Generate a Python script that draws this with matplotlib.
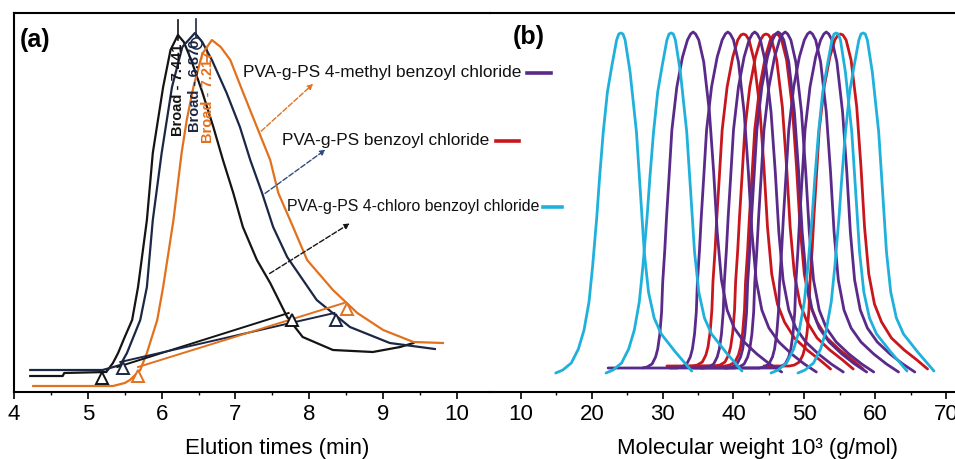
import matplotlib
matplotlib.use("Agg")
import matplotlib.pyplot as plt
import numpy as np

plt.rcParams['font.family'] = ['Liberation Sans', 'DejaVu Sans']

# ---- panel (a): GPC traces (elution time in min, height above baseline axis)
black_t = [4.22, 4.66, 4.68, 5.25, 5.34, 5.41, 5.50, 5.60, 5.68, 5.80, 5.88, 6.02, 6.12, 6.22,
           6.30, 6.40, 6.55, 6.70, 6.83, 6.97, 7.10, 7.29, 7.47, 7.70, 7.91, 8.32, 8.86, 9.23, 9.41]
black_h = [16, 16, 19, 20, 29, 39, 55, 72, 105, 172, 239, 305, 342, 357,
           350, 332, 300, 265, 232, 199, 165, 132, 109, 75, 55, 42, 40, 45, 49]

navy_t = [4.22, 5.20, 5.30, 5.44, 5.53, 5.71, 5.80, 5.88, 6.00, 6.14, 6.28, 6.45,
          6.55, 6.68, 6.88, 7.06, 7.20, 7.36, 7.51, 7.70, 8.10, 8.55, 9.09, 9.70]
navy_h = [22, 22, 24, 27, 39, 72, 105, 172, 239, 305, 345, 359,
          350, 332, 299, 265, 232, 199, 165, 135, 92, 65, 49, 43]

orange_t = [4.26, 5.34, 5.50, 5.57, 5.71, 5.80, 5.94, 6.02, 6.16, 6.27, 6.34, 6.43, 6.55, 6.68,
            6.80, 6.93, 7.10, 7.29, 7.47, 7.58, 7.78, 7.97, 8.32, 8.65, 9.00, 9.41, 9.81]
orange_h = [6, 6, 9, 12, 22, 39, 72, 105, 172, 239, 272, 305, 338, 352,
            345, 332, 300, 265, 232, 199, 165, 132, 102, 79, 62, 50, 49]

# integration baselines (start, end) and their triangle marks
black_base_t, black_base_h = [5.40, 7.72], [25, 79]
navy_base_t, navy_base_h = [5.44, 8.34], [30, 79]
orange_base_t, orange_base_h = [5.68, 8.47], [25, 89]
black_tri_t, black_tri_h = [5.19, 7.76], [14, 72]
navy_tri_t, navy_tri_h = [5.48, 8.36], [24, 72]
orange_tri_t, orange_tri_h = [5.68, 8.51], [16, 83]

peak_labels = ["Broad - 7.441", "Broad - 6.870", "Broad - 7.217"]

# ---- panel (b): molecular weight distributions (peak positions, 10^3 g/mol)
cyan_peaks = [24.1, 31.2, 54.5, 58.3]
purple_peaks = [34.3, 39.2, 43.0, 46.3, 47.3, 50.8, 53.1]
red_peaks = [41.4, 44.6, 46.0, 55.1]

# one distribution shape per series (offset from peak, height)
cyan_dx = [-9.2, -8.2, -7.0, -6.0, -5.2, -4.5, -4.0, -3.7, -3.4, -3.0, -2.5, -1.9, -1.3, -0.6, -0.3, 0.0,
           0.3, 0.6, 1.3, 2.2, 2.8, 3.3, 3.9, 4.7, 5.7, 7.7, 10.0]
cyan_h = [19, 22, 29, 43, 62, 90, 125, 150, 175, 215, 259, 300, 325, 352, 358, 359,
          358, 352, 320, 260, 195, 140, 100, 74, 58, 40, 21]

purple_dx = [-12.0, -7.2, -6.5, -5.8, -5.3, -5.0, -4.7, -4.45, -4.3, -4.0, -3.75, -3.4, -3.0, -2.3, -1.5,
             -0.8, -0.35, 0.0, 0.35, 0.8, 1.5, 2.3, 2.9, 3.4, 4.0, 4.8, 5.8, 7.2, 9.0, 10.8, 12.5]
purple_h = [24, 24, 25, 28, 35, 43, 58, 80, 109, 142, 175, 215, 262, 305, 335,
            352, 358, 360, 358, 352, 330, 280, 220, 160, 112, 82, 64, 50, 38, 28, 20]

red_dx = [-10.8, -7.2, -6.5, -5.8, -5.3, -5.0, -4.7, -4.45, -4.3, -4.0, -3.75, -3.4, -3.0, -2.3, -1.5,
          -0.8, -0.35, 0.0, 0.35, 0.8, 1.5, 2.3, 2.9, 3.4, 4.0, 4.8, 5.8, 7.2, 9.0, 10.8, 12.3]
red_h = [26, 26, 27, 30, 37, 45, 60, 82, 110, 142, 175, 215, 262, 305, 335,
         352, 357, 358, 357, 352, 332, 285, 225, 165, 118, 88, 70, 54, 42, 32, 23]

legend_names = ["PVA-g-PS 4-methyl benzoyl chloride", "PVA-g-PS benzoyl chloride",
                "PVA-g-PS 4-chloro benzoyl chloride"]

C_BLACK, C_NAVY, C_ORANGE = "#141414", "#1b2745", "#e2711d"
C_CYAN, C_PURPLE, C_RED = "#1fb1dc", "#5a2a8a", "#c8161d"

W, H = 955, 459
fig = plt.figure(figsize=(W / 100, H / 100), dpi=100)
bottom, height = (H - 392) / H, (392 - 13) / H
ax_a = fig.add_axes([14 / W, bottom, (490 - 14) / W, height])
ax_b = fig.add_axes([490 / W, bottom, (957 - 490) / W, height])
ax_b.patch.set_visible(False)

# ---------------- panel (a)
for t, h, c in [(black_t, black_h, C_BLACK), (navy_t, navy_h, C_NAVY), (orange_t, orange_h, C_ORANGE)]:
    ax_a.plot(t, h, color=c, lw=1.6, zorder=3)
for t, h, c in [(black_base_t, black_base_h, C_BLACK), (navy_base_t, navy_base_h, C_NAVY),
                (orange_base_t, orange_base_h, C_ORANGE)]:
    ax_a.plot(t, h, color=c, lw=1.4, zorder=3)
for t, h, c in [(black_tri_t, black_tri_h, C_BLACK), (navy_tri_t, navy_tri_h, C_NAVY),
                (orange_tri_t, orange_tri_h, C_ORANGE)]:
    ax_a.plot(t, h, ls="none", marker="^", ms=9, mfc="white", mec=c, mew=1.4, zorder=4)

# peak marks and labels
ax_a.plot([6.22, 6.22], [352, 372], color=C_BLACK, lw=1.2)
ax_a.plot([6.47, 6.47], [355, 373], color=C_NAVY, lw=1.2)
ax_a.plot([6.47], [349], marker="o", ms=8, mfc="none", mec=C_NAVY, mew=1.1)
ax_a.plot([6.62, 6.62], [330, 345], color=C_ORANGE, lw=1.2)
for x, y, s, c in zip([6.22, 6.45, 6.63], [302, 306, 295], peak_labels, [C_BLACK, C_NAVY, C_ORANGE]):
    ax_a.text(x, y, s, rotation=90, ha="center", va="center", fontsize=10.5,
              fontweight="bold", color=c, zorder=5)

# annotations with dashed arrows
ax_a.annotate("", xy=(8.08, 310), xytext=(7.32, 259),
              arrowprops=dict(arrowstyle="-|>", color=C_ORANGE, lw=1.0, ls="--", mutation_scale=8))
ax_a.annotate("", xy=(8.25, 244), xytext=(7.37, 197),
              arrowprops=dict(arrowstyle="-|>", color="#2c4c80", lw=1.0, ls="--", mutation_scale=8))
ax_a.annotate("", xy=(8.58, 170), xytext=(7.43, 117),
              arrowprops=dict(arrowstyle="-|>", color=C_BLACK, lw=1.0, ls="--", mutation_scale=8))

ax_a.text(7.10, 319, legend_names[0], fontsize=12.4, ha="left", va="center", color="#111111")
ax_a.text(7.63, 252, legend_names[1], fontsize=12.4, ha="left", va="center", color="#111111")
ax_a.text(7.70, 185, legend_names[2], fontsize=11.4, ha="left", va="center", color="#111111")
ax_a.plot([10.95, 11.27], [319, 319], color=C_PURPLE, lw=2.6, clip_on=False)
ax_a.plot([10.53, 10.84], [251, 251], color=C_RED, lw=2.6, clip_on=False)
ax_a.plot([11.17, 11.42], [185, 185], color=C_CYAN, lw=2.6, clip_on=False)

ax_a.text(4.08, 352, "(a)", fontsize=18, fontweight="bold", ha="left", va="center")

ax_a.set_xlim(4, 4 + 476 / 73.83)
ax_a.set_ylim(0, 379)
ax_a.set_xticks([4, 5, 6, 7, 8, 9, 10])
ax_a.set_xticks(np.arange(4.5, 10.0, 1.0), minor=True)
ax_a.set_yticks([])
ax_a.spines["right"].set_visible(False)
ax_a.text(0.553, -0.150, "Elution times (min)", transform=ax_a.transAxes,
          ha="center", va="center", fontsize=16)

# ---------------- panel (b)
for peaks, dx, hh, c in [(red_peaks, red_dx, red_h, C_RED),
                         (purple_peaks, purple_dx, purple_h, C_PURPLE),
                         (cyan_peaks, cyan_dx, cyan_h, C_CYAN)]:
    for p in peaks:
        ax_b.plot(p + np.array(dx), hh, color=c, lw=2.0, solid_capstyle="round",
                  solid_joinstyle="round")

ax_b.text(8.87, 355, "(b)", fontsize=18, fontweight="bold", ha="left", va="center")
ax_b.set_xlim(10 - 31 / 7.083, 10 + (467 - 31) / 7.083)
ax_b.set_ylim(0, 379)
ax_b.set_xticks([10, 20, 30, 40, 50, 60, 70])
ax_b.set_xticks(np.arange(15, 70, 10), minor=True)
ax_b.set_yticks([])
ax_b.spines["left"].set_visible(False)
ax_b.spines["right"].set_visible(False)
ax_b.text(0.573, -0.150, "Molecular weight 10³ (g/mol)", transform=ax_b.transAxes,
          ha="center", va="center", fontsize=16)

for ax in (ax_a, ax_b):
    for s in ("top", "bottom", "left"):
        ax.spines[s].set_linewidth(1.5)
    ax.tick_params(axis="x", which="major", direction="out", length=5, width=1.2,
                   labelsize=16, pad=4)
    ax.tick_params(axis="x", which="minor", direction="out", length=2.5, width=1.0)

fig.savefig("out.png", dpi=100, facecolor="white")
